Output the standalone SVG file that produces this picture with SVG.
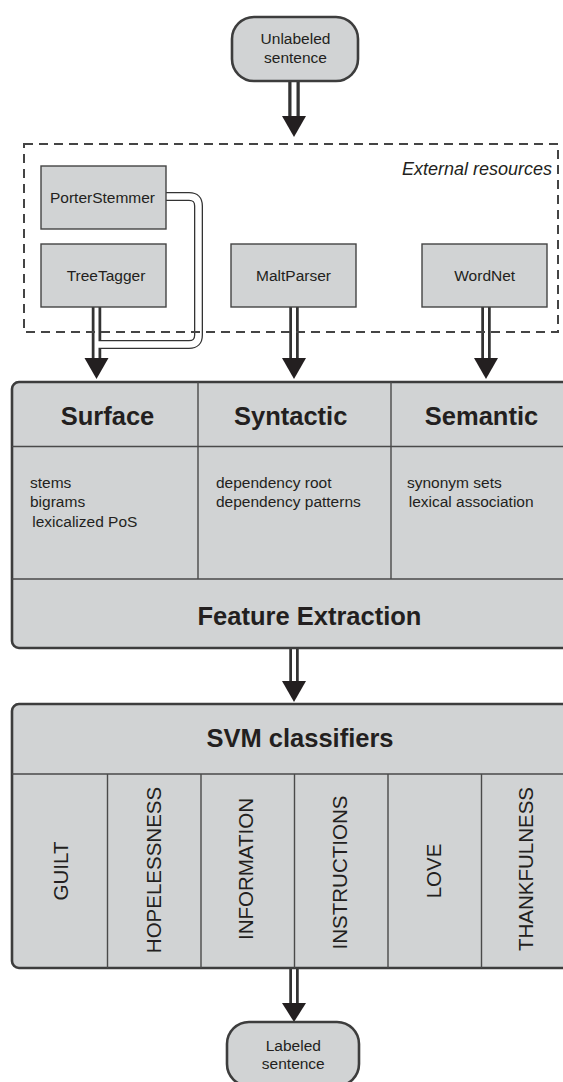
<svg xmlns="http://www.w3.org/2000/svg" width="563" height="1082" viewBox="0 0 563 1082">
<style>
text{font-family:"Liberation Sans",Arial,sans-serif;fill:#231f20}
.n{font-size:15.5px}
.h{font-size:25.5px;font-weight:bold}
.f{font-size:15.5px}
.v{font-size:20.5px}
.it{font-size:18px;font-style:italic}
.term{fill:#d1d3d4;stroke:#3d3d3d;stroke-width:2.6}
.res{fill:#d1d3d4;stroke:#444;stroke-width:1.4}
.big{fill:#d1d3d4;stroke:#3d3d3d;stroke-width:2.6}
.div{stroke:#4a4a4a;stroke-width:1.4;fill:none}
.dash{fill:none;stroke:#444;stroke-width:2;stroke-dasharray:9 6}
.o{fill:none;stroke:#333;stroke-width:9.5}
.i{fill:none;stroke:#fff;stroke-width:4}
.o2{fill:none;stroke:#333;stroke-width:9}
.i2{fill:none;stroke:#fff;stroke-width:6.4}
.ah{fill:#231f20}
</style>
<g id="connectors">
<path class="o" style="stroke-width:11.5" d="M294,81V118"/>
<path class="o" d="M96.5,307V360"/>
<path class="o2" d="M166,196.5H189Q198.5,196.5 198.5,206V335Q198.5,344.5 189,344.5H96.5"/>
<path class="o" d="M294,307V360"/>
<path class="o" d="M486,307V360"/>
<path class="o" d="M294,648V683"/>
<path class="o" d="M294,968V1005"/>
<path class="i" style="stroke-width:5" d="M294,81V118"/>
<path class="i" d="M96.5,307V360"/>
<path class="i2" d="M166,196.5H189Q198.5,196.5 198.5,206V335Q198.5,344.5 189,344.5H96.5"/>
<path class="i" d="M294,307V360"/>
<path class="i" d="M486,307V360"/>
<path class="i" d="M294,648V683"/>
<path class="i" d="M294,968V1005"/>
<polygon class="ah" points="282,116 306,116 294,137"/>
<polygon class="ah" points="84.5,358 108.5,358 96.5,379"/>
<polygon class="ah" points="282,358 306,358 294,379"/>
<polygon class="ah" points="474,358 498,358 486,379"/>
<polygon class="ah" points="282,681 306,681 294,702"/>
<polygon class="ah" points="282,1003 306,1003 294,1022"/>
</g>
<g id="unlabeled">
<rect class="term" x="232" y="17" width="126" height="64" rx="22"/>
<text class="n" x="295.5" y="44.3" text-anchor="middle">Unlabeled</text>
<text class="n" x="295.5" y="63.3" text-anchor="middle">sentence</text>
</g>
<g id="external">
<rect class="dash" x="24" y="144" width="534" height="188"/>
<text class="it" x="552" y="175" text-anchor="end">External resources</text>
</g>
<g id="porterstemmer">
<rect class="res" x="41" y="166" width="125" height="63"/>
<text class="n" x="102.5" y="203.3" text-anchor="middle">PorterStemmer</text>
</g>
<g id="treetagger">
<rect class="res" x="41" y="244" width="125" height="63"/>
<text class="n" x="106" y="281" text-anchor="middle">TreeTagger</text>
</g>
<g id="maltparser">
<rect class="res" x="231" y="244" width="125" height="63"/>
<text class="n" x="293.5" y="281" text-anchor="middle">MaltParser</text>
</g>
<g id="wordnet">
<rect class="res" x="422" y="244" width="125" height="63"/>
<text class="n" x="484.7" y="281" text-anchor="middle">WordNet</text>
</g>
<g id="feature-extraction">
<rect class="big" x="12" y="382" width="620" height="266" rx="7"/>
<path class="div" d="M12,446.5H600M12,579H600M198,382V579M391,382V579"/>
<text class="h" x="107.5" y="425" text-anchor="middle">Surface</text>
<text class="h" x="290.7" y="425" text-anchor="middle">Syntactic</text>
<text class="h" x="481.5" y="425" text-anchor="middle">Semantic</text>
<text class="f" x="30" y="488.3">stems</text>
<text class="f" x="30" y="507">bigrams</text>
<text class="f" x="32.3" y="526.5">lexicalized PoS</text>
<text class="f" x="216" y="488.3">dependency root</text>
<text class="f" x="216" y="507">dependency patterns</text>
<text class="f" x="407" y="488.3">synonym sets</text>
<text class="f" x="408.7" y="507">lexical association</text>
<text class="h" x="309.5" y="625" text-anchor="middle">Feature Extraction</text>
</g>
<g id="svm">
<rect class="big" x="12" y="704" width="620" height="264" rx="7"/>
<path class="div" d="M12,774H600M107.5,774V968M201,774V968M294.5,774V968M388,774V968M481.5,774V968"/>
<text class="h" x="300" y="746.7" text-anchor="middle">SVM classifiers</text>
<text class="v" text-anchor="middle" transform="translate(68.3,871) rotate(-90)">GUILT</text>
<text class="v" text-anchor="middle" transform="translate(160.7,870) rotate(-90)">HOPELESSNESS</text>
<text class="v" text-anchor="middle" transform="translate(253.3,869) rotate(-90)">INFORMATION</text>
<text class="v" text-anchor="middle" transform="translate(346.5,872.5) rotate(-90)">INSTRUCTIONS</text>
<text class="v" text-anchor="middle" transform="translate(441,871) rotate(-90)">LOVE</text>
<text class="v" text-anchor="middle" transform="translate(533,869) rotate(-90)">THANKFULNESS</text>
</g>
<g id="labeled">
<rect class="term" x="227" y="1022" width="132" height="64" rx="22"/>
<text class="n" x="293.3" y="1050.7" text-anchor="middle">Labeled</text>
<text class="n" x="293.3" y="1069" text-anchor="middle">sentence</text>
</g>
</svg>
